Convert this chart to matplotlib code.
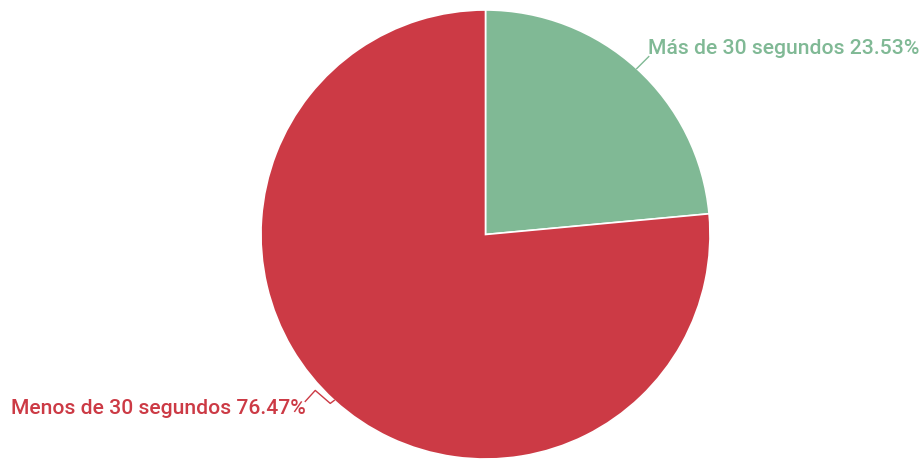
import matplotlib.pyplot as plt
import numpy as np

labels = ['Más de 30 segundos', 'Menos de 30 segundos']
values = [23.53, 76.47]
colors = ['#80B995', '#CC3A45']

plt.rcParams['font.family'] = ['Roboto', 'DejaVu Sans']

fig = plt.figure(figsize=(9.2, 4.59), dpi=100)
ax = fig.add_axes([0, 0, 1, 1])

cx, cy, r = 485.5, 224.5, 224.5
wedges, _ = ax.pie(values, colors=colors, startangle=90, counterclock=False,
                   center=(cx, cy), radius=r, frame=True,
                   wedgeprops=dict(edgecolor='white', linewidth=1.2))
ax.set_xlim(0, 920)
ax.set_ylim(0, 459)
ax.set_aspect('equal')
ax.axis('off')

for w, lab, val, col in zip(wedges, labels, values, colors):
    mid = np.deg2rad((w.theta1 + w.theta2) / 2)
    ex, ey = cx + r * np.cos(mid), cy + r * np.sin(mid)
    text = f'{lab} {val:.2f}%'
    if np.cos(mid) > 0:
        ax.plot([ex, ex + 12], [ey, ey + 12], color=col, lw=1)
        ax.text(ex + 11, ey + 20, text, color=col, fontsize=15.2,
                fontweight='medium', ha='left', va='center')
    else:
        xs = [ex, ex - 4, ex - 19, ex - 29]
        ys = [ey, ey - 3, ey + 10, ey - 1]
        ax.plot(xs, ys, color=col, lw=1)
        ax.text(ex - 29, ey - 8, text, color=col, fontsize=15.2,
                fontweight='medium', ha='right', va='center')

fig.savefig('out.png', dpi=100)
